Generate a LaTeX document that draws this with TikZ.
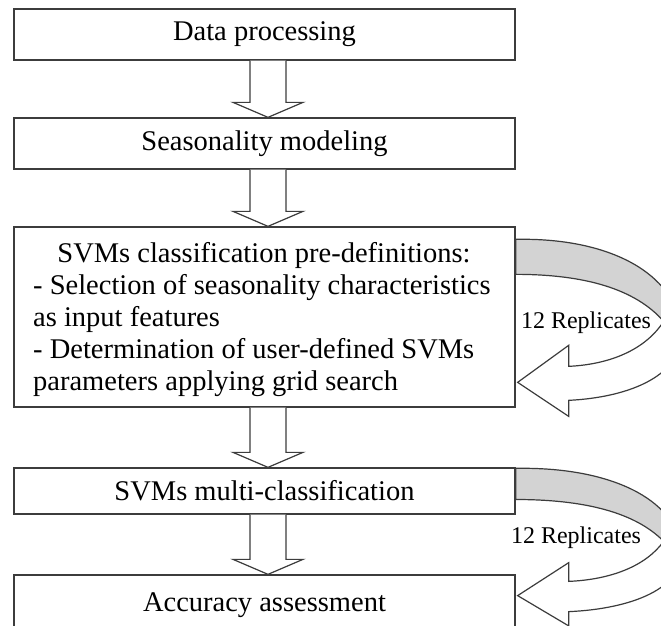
\documentclass[tikz,border=0pt]{standalone}
\usepackage{fontspec}
\setmainfont{Liberation Serif}
\usetikzlibrary{calc}
\definecolor{edge}{RGB}{60,60,60}
\definecolor{band}{RGB}{211,211,211}
\tikzset{
  bigtext/.style={font=\fontsize{28.5}{32}\selectfont},
  stepbox/.style={draw=edge, line width=1.3pt, fill=white, rectangle, inner sep=0pt,
    minimum width=501pt, bigtext},
  lineleft/.style={bigtext, inner sep=0pt, anchor=base west},
  barrow/.style={draw=edge, line width=1.2pt, fill=white, line join=miter},
  bandback/.style={draw=edge, line width=1.2pt, fill=band},
  bandfront/.style={draw=edge, line width=1.2pt, fill=white, line join=miter},
  replabel/.style={font=\fontsize{24}{28}\selectfont, inner sep=0pt}
}
% block arrow between two stacked boxes
\newcommand\blockarrow[2]{%
  \filldraw[barrow]
    ($(#1.south)+(-14.5,0)$) -- ($(#2.north)+(-14.5,-15)$) --
    ($(#2.north)+(-31.5,-15)$) -- ($(#2.north)+(3.5,0)$) --
    ($(#2.north)+(38.5,-15)$) -- ($(#2.north)+(21.5,-15)$) --
    ($(#1.south)+(21.5,0)$);}
% curved return arrow, drawn in local coordinates
\newcommand\returnarrow{%
  \filldraw[bandback] (0,0) .. controls (95,-2) and (160,35) .. (165,90)
    -- (148,82) .. controls (120,50) and (70,35) .. (0,35) -- cycle;
  \filldraw[bandfront] (148,82) .. controls (130,110) and (95,125) .. (53,127)
    -- (53,106) -- (2,143) -- (53,177) -- (53,161)
    .. controls (115,158) and (170,135) .. (165,90) -- cycle;}
\begin{document}
\begin{tikzpicture}[x=1pt,y=-1pt]
\fill[white] (0,0) rectangle (661,626);
\useasboundingbox (0,0) rectangle (661,626);
\clip (0,0) rectangle (661,626);

\node[stepbox, minimum height=51pt] (box1) at (264.5,34.5) {Data processing};
\node[stepbox, minimum height=51pt] (box2) at (264.5,143.5) {Seasonality modeling};
\node[stepbox, minimum height=180pt] (box3) at (264.5,317) {};
\node[stepbox, minimum height=46pt] (box4) at (264.5,491) {SVMs multi-classification};
\node[stepbox, minimum height=70pt] (box5) at (264.5,610) {};
\node[bigtext, inner sep=0pt, anchor=base] (acc) at (264.5,611) {Accuracy assessment};

\node[bigtext, inner sep=0pt, anchor=base] (b3title) at (264,262)
  {SVMs classification pre-definitions:};
\node[lineleft] (b3l1) at (33,294) {- Selection of seasonality characteristics};
\node[lineleft] (b3l2) at (33,326) {as input features};
\node[lineleft] (b3l3) at (33,358) {- Determination of user-defined SVMs};
\node[lineleft] (b3l4) at (33,390) {parameters applying grid search};

\blockarrow{box1}{box2}
\blockarrow{box2}{box3}
\blockarrow{box3}{box4}
\blockarrow{box4}{box5}

\begin{scope}[shift={($(box3.north east)+(0,13)$)}]
  \returnarrow
\end{scope}
\begin{scope}[shift={($(box4.north east)+(0,1)$)}, yscale=0.89]
  \returnarrow
\end{scope}

\node[replabel, anchor=base] (rep1) at (586,328) {12 Replicates};
\node[replabel, anchor=base] (rep2) at (576,543) {12 Replicates};
\end{tikzpicture}
\end{document}
